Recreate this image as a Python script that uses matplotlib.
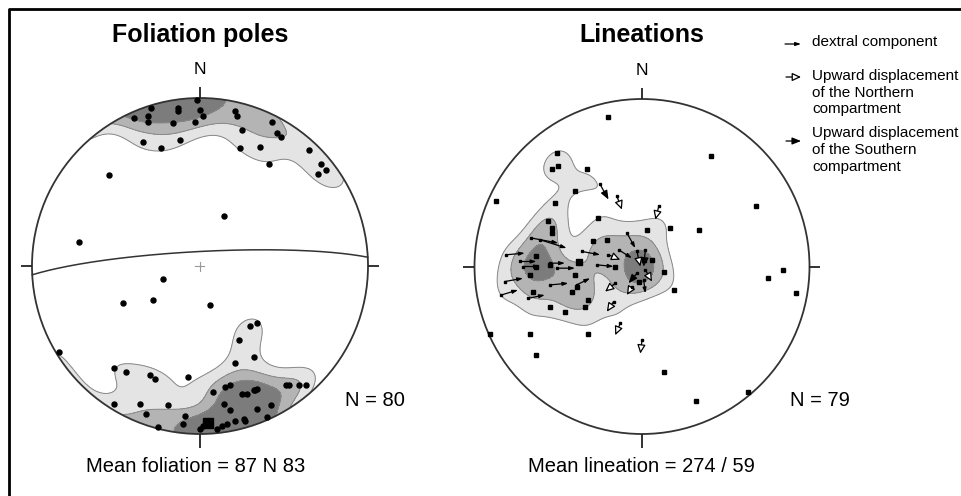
import numpy as np
import matplotlib
matplotlib.use('Agg')
import matplotlib.pyplot as plt
from matplotlib.patches import Circle

plt.rcParams['font.family'] = ['Liberation Sans', 'DejaVu Sans']

W, H = 962, 496

# foliation poles, equal-area net coords (x = east, y = north, primitive radius 1)
pole_x = [-0.29, -0.13, -0.13, -0.02, 0.00, 0.02, -0.03, -0.16, -0.31, -0.31,
          -0.39, -0.34, -0.23, -0.12, 0.21, 0.22, 0.25, 0.24, 0.36, 0.41,
          0.43, 0.46, 0.48, 0.65, 0.72, 0.75, 0.70, -0.54, 0.14, -0.72,
          -0.22, -0.28, -0.46, 0.06, -0.84, 0.30, 0.34, 0.23, 0.32, 0.21,
          -0.51, -0.44, -0.30, -0.27, -0.07, -0.51, -0.36, -0.32, -0.19, -0.09,
          -0.10, -0.25, 0.08, 0.15, 0.18, 0.25, 0.28, 0.32, 0.33, 0.34,
          0.51, 0.53, 0.59, 0.63, 0.14, 0.18, 0.34, 0.42, 0.21, 0.26,
          0.27, 0.16, 0.40, 0.00, 0.02, 0.10, 0.13]
pole_y = [0.94, 0.94, 0.92, 0.99, 0.93, 0.89, 0.86, 0.85, 0.89, 0.86,
          0.88, 0.74, 0.70, 0.75, 0.92, 0.89, 0.81, 0.70, 0.71, 0.61,
          0.86, 0.79, 0.77, 0.69, 0.61, 0.57, 0.55, 0.54, 0.30, 0.14,
          -0.08, -0.20, -0.22, -0.23, -0.51, -0.36, -0.34, -0.44, -0.54, -0.58,
          -0.61, -0.63, -0.65, -0.67, -0.66, -0.82, -0.82, -0.88, -0.83, -0.89,
          -0.94, -0.96, -0.75, -0.72, -0.71, -0.76, -0.76, -0.74, -0.74, -0.73,
          -0.71, -0.71, -0.71, -0.71, -0.82, -0.86, -0.85, -0.83, -0.92, -0.91,
          -0.92, -0.94, -0.90, -0.97, -0.95, -0.97, -0.95]
mean_strike, mean_dip = 87, 83   # "87 N 83", dipping north

# lineations without shear-sense indicator
lin_x = [-0.20, 0.41, -0.51, -0.54, -0.50, -0.33, -0.40, -0.87, -0.52, 0.68,
         -0.26, 0.34, 0.17, 0.03, -0.56, -0.54, -0.54, -0.29, -0.21, 0.13,
         0.19, 0.84, 0.75, 0.92, -0.63, -0.67, -0.40, -0.55, -0.39, -0.65,
         -0.55, -0.46, -0.34, -0.32, -0.42, -0.91, -0.67, -0.32, -0.63, 0.13,
         0.32, 0.63, -0.16, 0.01, 0.06, -0.02, -0.63]
lin_y = [0.89, 0.66, 0.68, 0.58, 0.60, 0.58, 0.45, 0.39, 0.38, 0.36,
         0.29, 0.22, 0.23, 0.22, 0.27, 0.23, 0.20, 0.15, 0.16, -0.03,
         -0.14, -0.02, -0.07, -0.16, 0.06, -0.05, -0.05, 0.01, -0.12, -0.15,
         -0.24, -0.27, -0.24, -0.20, -0.15, -0.40, -0.40, -0.40, -0.53, -0.63,
         -0.80, -0.75, 0.00, 0.04, 0.04, -0.09, 0.00]

# lineations with shear sense: tail = lineation, tip = movement direction
arrow_x0 = [-0.66, -0.61, -0.81, -0.73, -0.71, -0.55, -0.51, -0.82, -0.84, -0.68,
            -0.55, -0.36, -0.27, -0.39, -0.16, -0.17, -0.25, -0.15, 0.10, -0.09,
            -0.14, -0.20, -0.03, 0.02, -0.03, -0.06, 0.01, 0.02, -0.13, 0.00]
arrow_y0 = [0.17, 0.16, 0.07, 0.03, 0.00, 0.02, -0.01, -0.09, -0.17, -0.19,
            -0.11, 0.09, 0.01, -0.11, -0.10, -0.21, 0.49, 0.42, 0.36, 0.20,
            0.10, 0.07, 0.09, 0.10, -0.04, -0.12, -0.08, -0.02, -0.34, -0.44]
arrow_x1 = [-0.50, -0.45, -0.70, -0.63, -0.61, -0.46, -0.40, -0.71, -0.74, -0.58,
            -0.44, -0.25, -0.17, -0.31, -0.22, -0.21, -0.20, -0.12, 0.08, -0.04,
            -0.06, -0.13, -0.01, 0.01, -0.08, -0.09, 0.02, 0.06, -0.16, -0.01]
arrow_y1 = [0.14, 0.11, 0.08, 0.03, 0.00, 0.02, -0.01, -0.07, -0.14, -0.17,
            -0.10, 0.07, 0.00, -0.07, -0.15, -0.27, 0.40, 0.34, 0.28, 0.11,
            0.05, 0.04, 0.00, 0.00, -0.10, -0.17, -0.16, -0.09, -0.41, -0.52]
# D = dextral, N = northern compartment up, S = southern compartment up
arrow_kind = "DDDDDDDDDDDDDDNNSNNDDNNNSNDNNN"
mean_trend, mean_plunge = 274, 59

fill_colors = ['#e4e4e4', '#b4b4b4', '#7c7c7c']


def net_to_vec(x, y):
    """Equal-area (lower hemisphere) net coords -> unit vectors (E, N, down)."""
    x, y = np.asarray(x, float), np.asarray(y, float)
    r = np.clip(np.hypot(x, y), 0, 1)
    colat = 2 * np.arcsin(r / np.sqrt(2))
    trend = np.arctan2(x, y)
    pl = np.pi / 2 - colat
    return np.stack([np.cos(pl) * np.sin(trend), np.cos(pl) * np.cos(trend), np.sin(pl)], -1)


def line_to_net(trend, plunge):
    t, p = np.radians(trend), np.radians(plunge)
    r = np.sqrt(2) * np.sin((np.pi / 2 - p) / 2)
    return r * np.sin(t), r * np.cos(t)


def density(vecs, k, n=360):
    """Axial exponential kernel density in multiples of uniform distribution."""
    g = np.linspace(-1.0, 1.0, n)
    X, Y = np.meshgrid(g, g)
    grid = net_to_vec(X, Y)
    c = np.abs(grid @ vecs.T)
    d = np.exp(k * (c - 1)).sum(-1) * k / (len(vecs) * (1 - np.exp(-k)))
    return X, Y, d


def net_axes(fig, cx, cy, R, s=1.3):
    ax = fig.add_axes([(cx - s * R) / W, 1 - (cy + s * R) / H, 2 * s * R / W, 2 * s * R / H])
    ax.set_xlim(-s, s)
    ax.set_ylim(-s, s)
    ax.axis('off')
    return ax


def draw_net(ax, R, cross=False):
    ax.add_patch(Circle((0, 0), 1, fill=False, ec='#333333', lw=1.3, zorder=5))
    t = 11.0 / R
    kw = dict(color='#222222', lw=1.3, zorder=5, solid_capstyle='butt')
    ax.plot([0, 0], [1, 1 + t], **kw)
    ax.plot([0, 0], [-1, -1 - 1.25 * t], **kw)
    ax.plot([1, 1 + t], [0, 0], **kw)
    ax.plot([-1, -1 - t], [0, 0], **kw)
    ax.text(0, 1 + 1.9 * t, 'N', ha='center', va='bottom', fontsize=12.5)
    if cross:
        c = 4.5 / R
        ax.plot([-c, c], [0, 0], color='#999999', lw=0.8, zorder=5)
        ax.plot([0, 0], [-c, c], color='#999999', lw=0.8, zorder=5)


def draw_density(ax, vecs, k, levels):
    X, Y, d = density(vecs, k)
    clip = Circle((0, 0), 1, transform=ax.transData)
    top = max(d.max(), levels[-1]) + 1
    cf = ax.contourf(X, Y, d, levels=list(levels) + [top], colors=fill_colors, zorder=1)
    cl = ax.contour(X, Y, d, levels=levels, colors='#888888', linewidths=0.7, zorder=2)
    cf.set_clip_path(clip)
    cl.set_clip_path(clip)


def arrow(ax, x0, y0, x1, y1, kind):
    if kind == 'D':
        props = dict(arrowstyle='-|>,head_length=0.45,head_width=0.15', fc='k', ec='k')
    elif kind == 'N':
        props = dict(arrowstyle='-|>,head_length=0.75,head_width=0.35', fc='white', ec='k')
    else:
        props = dict(arrowstyle='-|>,head_length=0.75,head_width=0.3', fc='k', ec='k')
    props.update(lw=0.9, shrinkA=0, shrinkB=0, mutation_scale=7)
    ax.annotate('', xy=(x1, y1), xytext=(x0, y0), arrowprops=props, zorder=4,
                annotation_clip=False)


fig = plt.figure(figsize=(W / 100, H / 100), dpi=100)
ov = fig.add_axes([0, 0, 1, 1])
ov.set_xlim(0, W)
ov.set_ylim(H, 0)
ov.axis('off')

# frame (top and left edges)
ov.plot([9.5, 9.5, W], [H, 8.5, 8.5], color='k', lw=2, clip_on=False)

# ---- foliation poles
R1 = 168
ax1 = net_axes(fig, 200, 266, R1)
draw_density(ax1, net_to_vec(pole_x, pole_y), 50, [1.5, 2.7, 4.0])
draw_net(ax1, R1, cross=True)
dd = np.radians(mean_strike - 90)
sv = np.array([np.sin(np.radians(mean_strike)), np.cos(np.radians(mean_strike)), 0])
dp = np.radians(mean_dip)
dv = np.array([np.cos(dp) * np.sin(dd), np.cos(dp) * np.cos(dd), np.sin(dp)])
a = np.linspace(0, np.pi, 200)
gc = np.outer(np.cos(a), sv) + np.outer(np.sin(a), dv)
gtr = np.degrees(np.arctan2(gc[:, 0], gc[:, 1]))
gpl = np.degrees(np.arcsin(np.clip(gc[:, 2], 0, 1)))
gx, gy = line_to_net(gtr, gpl)
ax1.plot(gx, gy, color='#333333', lw=1.1, zorder=5)
ax1.plot(pole_x, pole_y, 'o', color='k', ms=3.6, zorder=6)
px, py = line_to_net(mean_strike - 90 + 180, 90 - mean_dip)
ax1.plot(px, py, 's', color='k', ms=7.5, zorder=7)

# ---- lineations
R2 = 167.5
ax2 = net_axes(fig, 642, 266.5, R2)
lin_all_x = list(lin_x) + list(arrow_x0)
lin_all_y = list(lin_y) + list(arrow_y0)
draw_density(ax2, net_to_vec(lin_all_x, lin_all_y), 65, [1.75, 3.2, 4.8])
draw_net(ax2, R2)
for x0, y0, x1, y1, k in zip(arrow_x0, arrow_y0, arrow_x1, arrow_y1, arrow_kind):
    arrow(ax2, x0, y0, x1, y1, k)
ax2.plot(arrow_x0, arrow_y0, 's', color='k', ms=2.0, zorder=6)
ax2.plot(lin_x, lin_y, 's', color='k', ms=2.6, zorder=6)
mx, my = line_to_net(mean_trend, mean_plunge)
ax2.plot(mx, my, 's', color='k', ms=5, zorder=7)

# ---- texts
ov.text(200, 35, 'Foliation poles', ha='center', va='center', fontsize=18, fontweight='bold')
ov.text(642, 35, 'Lineations', ha='center', va='center', fontsize=18, fontweight='bold')
ov.text(345, 400, 'N = 80', ha='left', va='center', fontsize=14.5)
ov.text(790, 400, 'N = 79', ha='left', va='center', fontsize=14.5)
ov.text(196, 467, 'Mean foliation = 87 N 83', ha='center', va='center', fontsize=14.5)
ov.text(641, 467, 'Mean lineation = 274 / 59', ha='center', va='center', fontsize=14.5)

# ---- legend
leg_x = 812
ov.text(leg_x, 42, 'dextral component', ha='left', va='center', fontsize=11)
ov.text(leg_x, 69, 'Upward displacement\nof the Northern\ncompartment', ha='left', va='top',
        fontsize=11, linespacing=1.25)
ov.text(leg_x, 126, 'Upward displacement\nof the Southern\ncompartment', ha='left', va='top',
        fontsize=11, linespacing=1.25)
arrow(ov, 785, 44, 801, 44, 'D')
arrow(ov, 786, 77, 801, 77, 'N')
arrow(ov, 786, 141, 801, 141, 'S')

fig.savefig('out.png', dpi=100)
